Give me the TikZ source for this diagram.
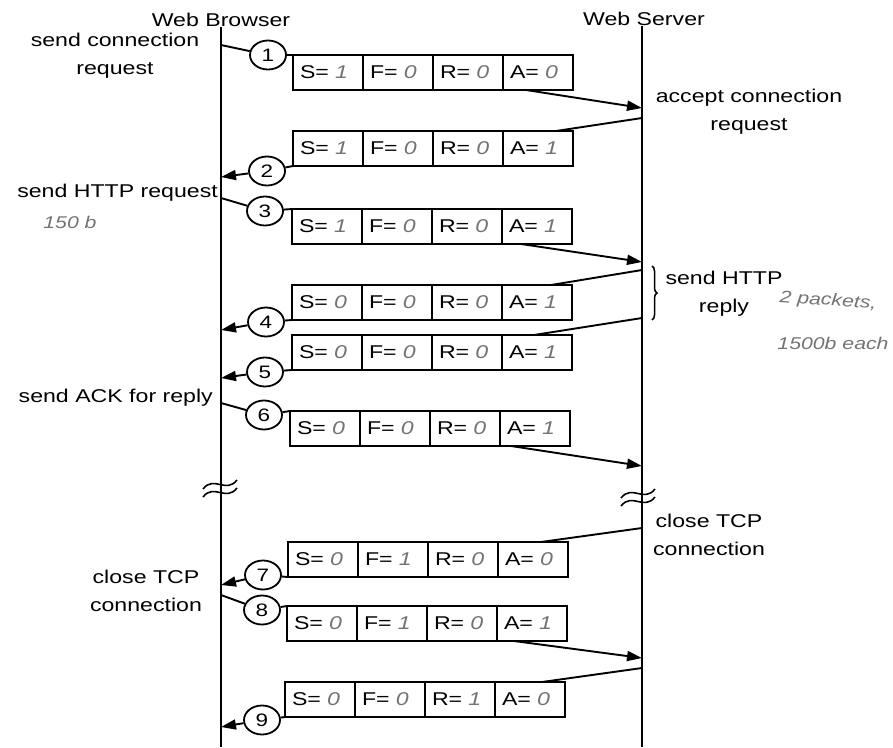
\documentclass[tikz,border=0pt]{standalone}
\usepackage{fontspec}
\setmainfont[FakeStretch=1.25]{Liberation Sans}
\usepackage{xcolor}
\usetikzlibrary{positioning, arrows.meta, calc, shapes.geometric, decorations.pathreplacing}
\definecolor{pencil}{RGB}{115,115,115}
\newcommand{\hw}[1]{{\color{pencil}\itshape #1}}

\begin{document}
\begin{tikzpicture}[x=1pt, y=-1pt,
        font=\fontsize{18.5}{28}\selectfont,
        lbl/.style={align=center, inner sep=0pt},
        note/.style={inner sep=0pt, font=\fontsize{17}{19}\selectfont},
        cell/.style={draw, line width=1.8pt, minimum height=35pt, text width=56pt, inner xsep=7pt, inner ysep=0pt, outer sep=0pt, align=left},
        num/.style={draw, ellipse, line width=1.8pt, minimum width=36pt, minimum height=29pt, inner sep=0pt, fill=white, font=\fontsize{18}{20}\selectfont},
        line/.style={line width=1.9pt},
        arr/.style={line, -{Triangle[length=15pt, width=10pt]}},
        brk/.style={line width=1.6pt}
    ]
    \useasboundingbox (0,0) rectangle (893,747);

    % the two hosts
    \node[lbl] (brw) at (221,20) {Web Browser};
    \node[lbl] (srv) at (644,19) {Web Server};
    \coordinate (brwend) at (221,747);
    \coordinate (srvend) at (642,747);
    \draw[line] (brw.south -| brwend) -- (brwend);
    \draw[line] (srv.south -| srvend) -- (srvend);

    % points on the two lines
    \coordinate (b1) at (221,45);  \coordinate (s1) at (642,108);
    \coordinate (s2) at (642,118); \coordinate (b2) at (221,177);
    \coordinate (b3) at (221,198); \coordinate (s3) at (642,262);
    \coordinate (s4) at (642,270); \coordinate (b4) at (221,330);
    \coordinate (s5) at (642,318); \coordinate (b5) at (221,378);
    \coordinate (b6) at (221,403); \coordinate (s6) at (642,466);
    \coordinate (s7) at (642,528); \coordinate (b7) at (221,585);
    \coordinate (b8) at (221,595); \coordinate (s8) at (642,658);
    \coordinate (s9) at (642,668); \coordinate (b9) at (221,727);

    % packets
    \foreach \n/\x/\y/\sv/\fv/\rv/\av in {1/293/55/1/0/0/0, 2/293/131/1/0/0/1, 3/292/209/1/0/0/1,
            4/292/285/0/0/0/1, 5/292/335/0/0/0/1, 6/290/411/0/0/0/1,
            7/288/542/0/1/0/0, 8/287/606/0/1/0/1, 9/285/682/0/0/1/0} {
        \node[cell, anchor=north west] (p\n-s) at (\x,\y) {S= \hw{\sv}};
        \node[cell, right=0pt of p\n-s] (p\n-f) {F= \hw{\fv}};
        \node[cell, right=0pt of p\n-f] (p\n-r) {R= \hw{\rv}};
        \node[cell, right=0pt of p\n-r] (p\n-a) {A= \hw{\av}};
    }

    \node[num] (c1) at (268,55) {1};
    \node[num] (c2) at (267,171) {2};
    \node[num] (c3) at (265,211) {3};
    \node[num] (c4) at (266,322) {4};
    \node[num] (c5) at (265,372) {5};
    \node[num] (c6) at (264,415) {6};
    \node[num] (c7) at (263,575) {7};
    \node[num] (c8) at (262,610) {8};
    \node[num] (c9) at (262,720) {9};

    % browser to server
    \draw[line] (b1) -- (c1) -- (p1-s.north west);
    \draw[arr] ([xshift=-12pt]p1-a.south) -- (s1);
    \draw[line] (b3) -- (c3) -- (p3-s.north west);
    \draw[arr] ([xshift=-16pt]p3-a.south) -- (s3);
    \draw[line] (b6) -- (c6) -- (p6-s.north west);
    \draw[arr] ([xshift=-24pt]p6-a.south) -- (s6);
    \draw[line] (b8) -- (c8) -- (p8-s.north west);
    \draw[arr] ([xshift=-18pt]p8-a.south) -- (s8);

    % server to browser
    \draw[line] (s2) -- ([xshift=18pt]p2-a.north);
    \draw[arr] (p2-s.south west) -- (c2) -- (b2);
    \draw[line] (s4) -- ([xshift=14pt]p4-a.north);
    \draw[arr] (p4-s.south west) -- (c4) -- (b4);
    \draw[line] (s5) -- ([xshift=-3pt]p5-a.north);
    \draw[arr] (p5-s.south west) -- (c5) -- (b5);
    \draw[line] (s7) -- ([xshift=8pt]p7-a.north);
    \draw[arr] (p7-s.south west) -- (c7) -- (b7);
    \draw[line] (s9) -- ([xshift=12pt]p9-a.north);
    \draw[arr] (p9-s.south west) -- (c9) -- (b9);

    % breaks in time
    \foreach \x/\y in {220/485, 638/494} {
        \foreach \d in {0,8}
            \draw[brk] (\x-17,\y+\d+4) .. controls (\x-6,\y+\d-10) and (\x+6,\y+\d+9) .. (\x+17,\y+\d-5);
    }

    % labels
    \node[lbl] (sendconn) at (115,56) {send connection\\request};
    \node[lbl] (accept) at (749,112) {accept connection\\request};
    \node[lbl, anchor=east] (sendhttp) at (218,193) {send HTTP request};
    \node[lbl] (reply) at (724,294) {send HTTP\\reply};
    \draw[line width=1.5pt, decorate, decoration={brace, amplitude=5pt}] (652,266) -- (652,320);
    \node[lbl, anchor=east] (sendack) at (213,398) {send ACK for reply};
    \node[lbl] (closes) at (709,535) {close TCP\\connection};
    \node[lbl] (closeb) at (146,591) {close TCP\\connection};

    % pencil notes
    \node[note] (n150) at (70,222) {\hw{150 b}};
    \node[note, rotate=-4] (npk) at (828,301) {\hw{2 packets,}};
    \node[note] (neach) at (833,343) {\hw{1500b each}};

\end{tikzpicture}
\end{document}
